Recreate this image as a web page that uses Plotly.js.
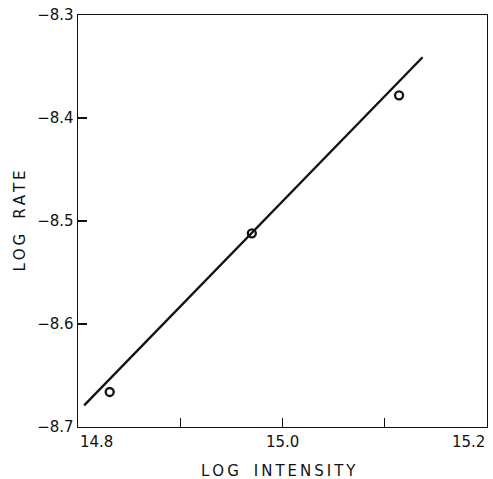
<!DOCTYPE html>
<html>
<head>
<meta charset="utf-8">
<script src="https://cdn.plot.ly/plotly-3.0.1.min.js"></script>
<style>
  html, body { margin: 0; padding: 0; background: #fff; }
  #chart { width: 493px; height: 479px; }
</style>
</head>
<body>
<div id="chart"></div>
<script>
// Measured points: log intensity vs log rate
const logIntensity = [14.831, 14.970, 15.114];
const logRate = [-8.666, -8.512, -8.378];

// Fitted straight line, drawn between its two end points
const fitIntensity = [14.806, 15.137];
const fitRate = [-8.679, -8.341];

// Axis ticks and the labels shown on them
const xTickVals = [14.8, 14.9, 15.0, 15.1, 15.2];
const xLabelVals = [14.8, 15.0, 15.2];
const xLabelText = ['14.8', '15.0', '15.2'];
const yTickVals = [-8.7, -8.6, -8.5, -8.4, -8.3];
const yTickText = ['\u22128.7', '\u22128.6', '\u22128.5', '\u22128.4', '\u22128.3'];

const xTitle = 'LOG INTENSITY';
const yTitle = 'LOG RATE';

const ink = '#111';
const fontFamily = 'DejaVu Sans, Liberation Sans, sans-serif';

// spread capitals with thin spaces, words with a wider gap
function spaced(s) {
  return s.split(' ').map(w => w.split('').join('\u2009')).join('\u2002\u2002');
}

const traces = [
  {
    x: fitIntensity, y: fitRate,
    mode: 'lines', type: 'scatter',
    line: { color: ink, width: 2.3 },
    hoverinfo: 'skip'
  },
  {
    x: logIntensity, y: logRate,
    mode: 'markers', type: 'scatter',
    marker: { symbol: 'circle-open', size: 8, color: ink, line: { color: ink, width: 2.3 } }
  }
];

// x tick labels: the end labels sit inside the axis span
const annotations = xLabelVals.map((v, i) => ({
  x: v, y: 0, xref: 'x', yref: 'paper',
  yanchor: 'top', yshift: -4,
  xanchor: i === 0 ? 'left' : (i === xLabelVals.length - 1 ? 'right' : 'center'),
  text: xLabelText[i], showarrow: false,
  font: { family: fontFamily, size: 15, color: ink }
}));

// x axis title below the tick labels
annotations.push({
  x: 0.49, y: 0, xref: 'paper', yref: 'paper',
  xanchor: 'center', yanchor: 'middle', yshift: -44,
  text: spaced(xTitle), showarrow: false,
  font: { family: fontFamily, size: 15, color: ink }
});

const layout = {
  width: 493, height: 479,
  margin: { l: 78, r: 6, t: 15, b: 52 },
  paper_bgcolor: '#fff', plot_bgcolor: '#fff',
  showlegend: false,
  font: { family: fontFamily, color: ink },
  xaxis: {
    range: [14.8, 15.2],
    tickvals: xTickVals, showticklabels: false,
    ticks: 'inside', ticklen: 9, tickwidth: 1.3, tickcolor: ink,
    showgrid: false, zeroline: false,
    showline: true, linecolor: ink, linewidth: 1.4, mirror: true
  },
  yaxis: {
    range: [-8.7, -8.3],
    tickvals: yTickVals, ticktext: yTickText,
    ticks: 'inside', ticklen: 9, tickwidth: 1.3, tickcolor: ink,
    tickfont: { family: fontFamily, size: 15, color: ink },
    showgrid: false, zeroline: false,
    showline: true, linecolor: ink, linewidth: 1.4, mirror: true,
    title: { text: spaced(yTitle), font: { family: fontFamily, size: 15, color: ink }, standoff: 8 }
  },
  annotations: annotations
};

Plotly.newPlot('chart', traces, layout, { staticPlot: true, displayModeBar: false });
</script>
</body>
</html>
